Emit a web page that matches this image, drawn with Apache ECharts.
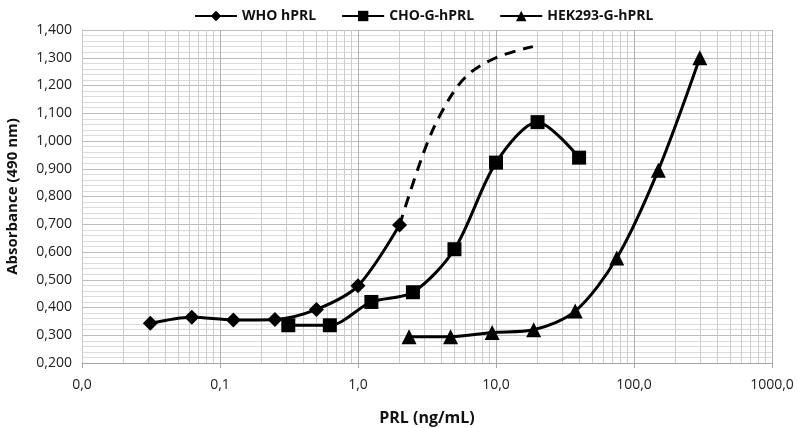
<!DOCTYPE html>
<html>
<head>
<meta charset="utf-8">
<script src="https://cdn.jsdelivr.net/npm/echarts@6/dist/echarts.min.js"></script>
<style>html,body{margin:0;padding:0;background:#fff;}#c{width:797px;height:428px;}</style>
</head>
<body>
<div id="c"></div>
<script>
const seriesNames = ['WHO hPRL', 'CHO-G-hPRL', 'HEK293-G-hPRL'];
const whoX = [0.03125, 0.0625, 0.125, 0.25, 0.5, 1, 2];
const whoY = [0.343, 0.365, 0.355, 0.357, 0.393, 0.478, 0.697];
const whoExtX = [2, 3, 4, 6, 10, 18.5];
const whoExtY = [0.697, 0.96, 1.10, 1.23, 1.30, 1.34];
const choX = [0.3125, 0.625, 1.25, 2.5, 5, 10, 20, 40];
const choY = [0.336, 0.336, 0.42, 0.455, 0.61, 0.922, 1.068, 0.94];
const hekX = [2.34375, 4.6875, 9.375, 18.75, 37.5, 75, 150, 300];
const hekY = [0.295, 0.295, 0.31, 0.32, 0.387, 0.578, 0.895, 1.30];
const xMin = 0.01, xMax = 1000;
const yMin = 0.2, yMax = 1.4, yStep = 0.1;

const zip = (xs, ys) => xs.map((x, i) => [x, ys[i]]);
const minorX = [];
for (let d = xMin; d < xMax * 0.99; d *= 10) {
  for (let k = 2; k <= 9; k++) minorX.push({ xAxis: +(d * k).toPrecision(6) });
}
const fmtX = v => v.toFixed(1).replace('.', ',');
const fmtY = v => v.toFixed(3).replace('.', ',');

const font = 'Open Sans';
const lineBase = { type: 'line', smooth: 0.3, lineStyle: { color: '#000', width: 3 }, itemStyle: { color: '#000' }, z: 3 };

const chart = echarts.init(document.getElementById('c'), null, { renderer: 'canvas' });
chart.setOption({
  animation: false,
  backgroundColor: '#fff',
  textStyle: { fontFamily: font },
  legend: {
    data: seriesNames,
    top: 4,
    left: 189,
    itemWidth: 42,
    itemHeight: 13,
    itemGap: 25,
    textStyle: { fontFamily: font, fontWeight: 'bold', fontSize: 14, color: '#111' }
  },
  grid: { left: 82, right: 25, top: 30, bottom: 65, containLabel: false, outerBoundsMode: 'none' },
  xAxis: {
    type: 'log', logBase: 10, min: xMin, max: xMax,
    name: 'PRL (ng/mL)', nameLocation: 'middle', nameGap: 47,
    nameTextStyle: { fontFamily: font, fontWeight: 'bold', fontSize: 16, color: '#111' },
    axisLine: { show: true, lineStyle: { color: '#a6a6a6', width: 1 } },
    axisTick: { show: true, length: 5, lineStyle: { color: '#a6a6a6' } },
    axisLabel: { formatter: fmtX, fontSize: 14, color: '#222', margin: 15, fontFamily: font },
    splitLine: { show: true, lineStyle: { color: '#b0b0b0', width: 1 } }
  },
  yAxis: {
    type: 'value', min: yMin, max: yMax, interval: yStep,
    name: 'Absorbance (490 nm)', nameLocation: 'middle', nameGap: 62,
    nameTextStyle: { fontFamily: font, fontWeight: 'bold', fontSize: 15, color: '#111' },
    axisLine: { show: true, lineStyle: { color: '#c8c8c8' } },
    axisTick: { show: false },
    axisLabel: { formatter: fmtY, fontSize: 14, color: '#222', margin: 10, fontFamily: font },
    splitLine: { show: true, lineStyle: { color: '#bdbdbd', width: 1 } },
    minorTick: { show: false, splitNumber: 5 },
    minorSplitLine: { show: true, lineStyle: { color: '#dcdcdc', width: 1 } }
  },
  series: [
    {
      name: '_grid', type: 'line', data: [], silent: true, z: 1,
      markLine: {
        silent: true, symbol: 'none', label: { show: false }, z: 1,
        lineStyle: { color: '#cccccc', width: 1, type: 'solid' },
        emphasis: { disabled: true },
        data: minorX
      }
    },
    Object.assign({}, lineBase, { name: seriesNames[0], data: zip(whoX, whoY), symbol: 'diamond', symbolSize: [15, 15] }),
    Object.assign({}, lineBase, {
      name: '_ext', data: zip(whoExtX, whoExtY), symbol: 'none', smooth: 0.35,
      lineStyle: { color: '#000', width: 3, type: [11, 8] }, z: 2
    }),
    Object.assign({}, lineBase, { name: seriesNames[1], data: zip(choX, choY), symbol: 'rect', symbolSize: 14 }),
    Object.assign({}, lineBase, { name: seriesNames[2], data: zip(hekX, hekY), symbol: 'triangle', symbolSize: 15 })
  ]
});
</script>
</body>
</html>
